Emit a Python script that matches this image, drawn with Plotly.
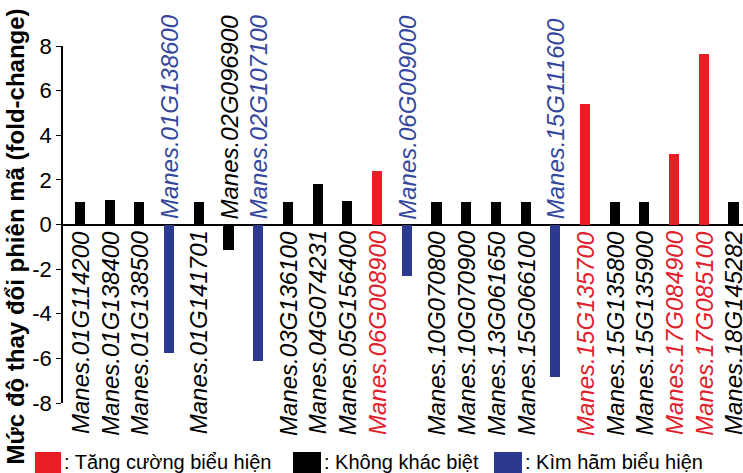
import plotly.graph_objects as go

genes = ["Manes.01G114200", "Manes.01G138400", "Manes.01G138500", "Manes.01G138600",
         "Manes.01G141701", "Manes.02G096900", "Manes.02G107100", "Manes.03G136100",
         "Manes.04G074231", "Manes.05G156400", "Manes.06G008900", "Manes.06G009000",
         "Manes.10G070800", "Manes.10G070900", "Manes.13G061650", "Manes.15G066100",
         "Manes.15G111600", "Manes.15G135700", "Manes.15G135800", "Manes.15G135900",
         "Manes.17G084900", "Manes.17G085100", "Manes.18G145282"]
fold_change = [1.0, 1.12, 1.0, -5.75, 1.0, -1.15, -6.1, 1.0, 1.8, 1.07, 2.4, -2.3,
               1.0, 1.0, 1.0, 1.0, -6.85, 5.38, 1.0, 1.0, 3.15, 7.62, 1.0]
groups = ["ns", "ns", "ns", "down", "ns", "ns", "down", "ns", "ns", "ns", "up", "down",
          "ns", "ns", "ns", "ns", "down", "up", "ns", "ns", "up", "up", "ns"]

legend_labels = {"up": ": Tăng cường biểu hiện",
                 "ns": ": Không khác biệt",
                 "down": ": Kìm hãm biểu hiện"}
yticks = [-8, -6, -4, -2, 0, 2, 4, 6, 8]
y_title = "Mức độ thay đổi phiên mã (fold-change)"

bar_colors = {"up": "#E81E25", "ns": "#000000", "down": "#2B3990"}
text_colors = {"up": "#E0202A", "ns": "#000000", "down": "#34479C"}
FONT = "Liberation Sans, Arial, sans-serif"

fig = go.Figure()
fig.add_trace(go.Bar(
    x=genes, y=fold_change, width=0.34,
    marker=dict(color=[bar_colors[g] for g in groups], line=dict(width=0)),
    showlegend=False, hoverinfo="x+y",
))

annotations = []
for g, v, grp in zip(genes, fold_change, groups):
    annotations.append(dict(
        x=g, y=0, xref="x", yref="y", text="<i>" + g + "</i>", showarrow=False,
        textangle=-90, xanchor="center",
        yanchor="top" if v > 0 else "bottom",
        yshift=-4 if v > 0 else 3,
        font=dict(family=FONT, size=24, color=text_colors[grp]),
    ))

# y-axis title
annotations.append(dict(
    x=0, y=0.5, xref="paper", yref="paper", xshift=-48, yshift=-12,
    text="<b>" + y_title + "</b>", showarrow=False, textangle=-90,
    xanchor="center", yanchor="middle",
    font=dict(family=FONT, size=24, color="#000000"),
))

# legend (manual)
leg_sq_x = {"up": (35, 61), "ns": (293, 321), "down": (494, 522)}
leg_txt_x = {"up": 62, "ns": 322, "down": 523}
shapes = []
W, H = 743, 473
L, R, T, B = 63, 0, 46, 70
pw, ph = W - L - R, H - T - B
for key in ["up", "ns", "down"]:
    x0, x1 = leg_sq_x[key]
    shapes.append(dict(
        type="rect", xref="paper", yref="paper",
        x0=(x0 - L) / pw, x1=(x1 - L) / pw,
        y0=(H - B - 473) / ph, y1=(H - B - 452) / ph,
        fillcolor=bar_colors[key], line=dict(width=0),
    ))
    annotations.append(dict(
        x=(leg_txt_x[key] - L) / pw, y=(H - B - 462) / ph, xref="paper", yref="paper",
        text=legend_labels[key], showarrow=False, xanchor="left", yanchor="middle",
        font=dict(family=FONT, size=20, color="#000000"),
    ))

fig.update_layout(
    width=W, height=H,
    margin=dict(l=L, r=R, t=T, b=B, pad=0),
    paper_bgcolor="white", plot_bgcolor="white",
    bargap=0,
    xaxis=dict(type="category", range=[-0.572, 22.32], showticklabels=False,
               showgrid=False, zeroline=False, showline=False, ticks=""),
    yaxis=dict(range=[-8, 8], tickvals=yticks, ticktext=[str(t) for t in yticks],
               showgrid=False, zeroline=True, zerolinecolor="#000000", zerolinewidth=1.5,
               showline=True, linecolor="#000000", linewidth=1.5,
               ticks="outside", ticklen=5, tickwidth=1.2, tickcolor="#000000",
               tickfont=dict(family=FONT, size=22, color="#000000")),
    annotations=annotations,
    shapes=shapes,
    font=dict(family=FONT),
)

fig.write_html("out.html", config={"displayModeBar": False},
               post_script="document.body.style.margin='0';document.body.style.overflow='hidden';")
